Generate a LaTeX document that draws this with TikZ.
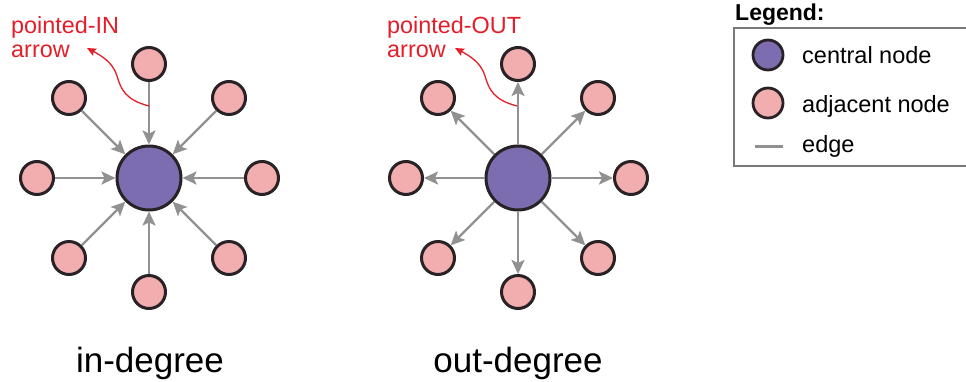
\documentclass[tikz,border=0pt]{standalone}
\usepackage{fontspec}
\setmainfont{Liberation Sans}
\usetikzlibrary{arrows.meta}
\definecolor{cpurple}{RGB}{123,109,176}
\definecolor{cpink}{RGB}{242,174,174}
\definecolor{cborder}{RGB}{40,34,38}
\definecolor{cedge}{RGB}{145,145,145}
\definecolor{cred}{RGB}{228,30,40}
\definecolor{cbox}{RGB}{120,120,120}
\begin{document}
\begin{tikzpicture}[x=1pt,y=-1pt,
  central/.style={circle,fill=cpurple,draw=cborder,line width=3pt,minimum size=64pt,inner sep=0pt},
  adj/.style={circle,fill=cpink,draw=cborder,line width=3pt,minimum size=33pt,inner sep=0pt},
  legcirc/.style={circle,draw=cborder,line width=2.8pt,minimum size=30pt,inner sep=0pt},
  arr/.style={draw=cedge,line width=2.4pt,-{Stealth[length=14pt,width=13pt,inset=3pt]}},
  redarr/.style={draw=cred,line width=1.3pt,-{Stealth[length=9pt,width=8pt,inset=1.5pt]}},
  redtxt/.style={text=cred,font=\fontsize{23.4}{24}\selectfont,inner sep=0pt,anchor=base west},
  legtxt/.style={font=\fontsize{23.5}{24}\selectfont,inner sep=0pt,anchor=base west},
  bigtxt/.style={font=\fontsize{35}{36}\selectfont,inner sep=0pt,anchor=base}
]
\path[use as bounding box] (0,0) rectangle (966,381);

% ---------- in-degree ----------
\node[central] (ci) at (149,178) {};
\node[adj] (i1) at (149,64) {};
\node[adj] (i2) at (229,98) {};
\node[adj] (i3) at (262,178) {};
\node[adj] (i4) at (229,258) {};
\node[adj] (i5) at (149,292) {};
\node[adj] (i6) at (69,258) {};
\node[adj] (i7) at (37,178) {};
\node[adj] (i8) at (69,98) {};
\foreach \n in {i1,i2,i3,i4,i5,i6,i7,i8} \draw[arr] (\n) -- (ci);

\node[redtxt] (inl1) at (11,33) {pointed-IN};
\node[redtxt] (inl2) at (11,57) {arrow};
\coordinate (ins) at (149,106);
\coordinate (inend) at (87,48);
\draw[redarr] (ins) .. controls (126,100) and (121,90) .. (117,76) .. controls (113,62) and (100,55) .. (inend);

\node[bigtxt] (indeg) at (150,372) {in-degree};

% ---------- out-degree ----------
\node[central] (co) at (518,178) {};
\node[adj] (o1) at (518,64) {};
\node[adj] (o2) at (598,98) {};
\node[adj] (o3) at (631,178) {};
\node[adj] (o4) at (598,258) {};
\node[adj] (o5) at (518,292) {};
\node[adj] (o6) at (438,258) {};
\node[adj] (o7) at (406,178) {};
\node[adj] (o8) at (438,98) {};
\foreach \n in {o1,o2,o3,o4,o5,o6,o7,o8} \draw[arr] (co) -- (\n);

\node[redtxt] (outl1) at (387,33) {pointed-OUT};
\node[redtxt] (outl2) at (387,57) {arrow};
\coordinate (outs) at (517,106);
\coordinate (outend) at (455,48);
\draw[redarr] (outs) .. controls (494,100) and (489,90) .. (485,76) .. controls (481,62) and (468,55) .. (outend);

\node[bigtxt] (outdeg) at (518,372) {out-degree};

% ---------- legend ----------
\node[font=\bfseries\fontsize{23}{24}\selectfont,inner sep=0pt,anchor=base west] (legt) at (735,20) {Legend:};
\draw[cbox,line width=1.1pt] (734,28) rectangle (975,166);
\node[legcirc,fill=cpurple] (lc) at (768,55) {};
\node[legtxt] (lct) at (802,63) {central node};
\node[legcirc,fill=cpink] (la) at (768,103) {};
\node[legtxt] (lat) at (802,112) {adjacent node};
\coordinate (le1) at (755,146);
\coordinate (le2) at (783,146);
\draw[cedge,line width=3pt] (le1) -- (le2);
\node[legtxt] (let) at (802,152) {edge};
\end{tikzpicture}
\end{document}
